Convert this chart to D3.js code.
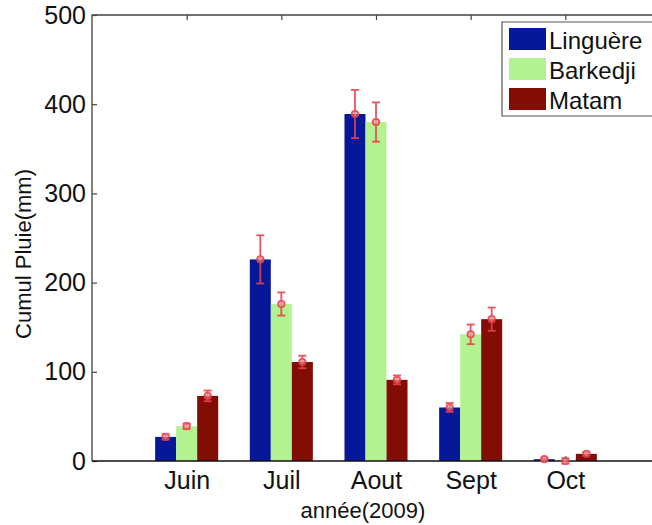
<!DOCTYPE html>
<html><head><meta charset="utf-8">
<script src="https://cdn.jsdelivr.net/npm/d3@7"></script>
<style>
html,body{margin:0;padding:0;background:#fff;overflow:hidden;width:652px;height:525px;}
svg{display:block;font-family:"Liberation Sans",Arial,Helvetica,sans-serif;overflow:hidden;}
</style></head><body>
<svg id="chart" width="652" height="525" viewBox="0 0 652 525"></svg>
<script>
const months = ["Juin","Juil","Aout","Sept","Oct"];
const seriesNames = ["Linguère","Barkedji","Matam"];
const linguere = [27, 226, 389, 60, 2];
const barkedji = [39, 176, 380, 142, 0];
const matam    = [73, 111, 91, 159, 8];
const errLinguere = [3, 27, 27, 5, 1];
const errBarkedji = [3, 13, 22, 11, 3];
const errMatam    = [6, 7, 5, 13, 2];
const yTicks = [0,100,200,300,400,500];
const colors = ["#061799","#b2f290","#820d05"];

const values = [linguere, barkedji, matam];
const errors = [errLinguere, errBarkedji, errMatam];

const svg = d3.select("#chart");
const x = d3.scaleLinear().domain([0,6]).range([92,660]);
const y = d3.scaleLinear().domain([0,500]).range([461,15]);
const bw = x(0.222) - x(0);

// axes frame (left and top; right side lies outside the picture)
svg.append("path")
  .attr("d",`M${x(6)},${y(500)}H${x(0)}V${y(0)}`)
  .attr("fill","none").attr("stroke","#444").attr("stroke-width",1.3);

// left axis
const gy = svg.append("g").attr("transform",`translate(${x(0)},0)`)
  .call(d3.axisLeft(y).tickValues(yTicks).tickSize(-5).tickPadding(6).tickFormat(d3.format("d")));
gy.select(".domain").remove();
gy.selectAll("line").attr("stroke","#444").attr("stroke-width",1.2);
gy.selectAll("text").attr("font-size",25).attr("fill","#111").attr("font-family","Liberation Sans, Arial, sans-serif");

// top ticks
const gt = svg.append("g").attr("transform",`translate(0,${y(500)})`)
  .call(d3.axisTop(x).tickValues([1,2,3,4,5]).tickSize(-5).tickFormat(""));
gt.select(".domain").remove();
gt.selectAll("line").attr("stroke","#444").attr("stroke-width",1.2);

// bottom axis
const gx = svg.append("g").attr("transform",`translate(0,${y(0)})`)
  .call(d3.axisBottom(x).tickValues([1,2,3,4,5]).tickSize(-5).tickPadding(10).tickFormat(d=>months[d-1]));
gx.select(".domain").remove();
gx.selectAll("line").attr("stroke","#444");
gx.selectAll("text").attr("font-size",25).attr("fill","#111").attr("font-family","Liberation Sans, Arial, sans-serif");

// bars
values.forEach((vals,s)=>{
  svg.append("g").selectAll("rect").data(vals).join("rect")
    .attr("x",(d,i)=>x(i+1) + (s-1.5)*bw)
    .attr("width",bw)
    .attr("y",d=>y(d))
    .attr("height",d=>y(0)-y(d))
    .attr("fill",colors[s]);
});

// baseline
svg.append("line").attr("x1",x(0)).attr("x2",x(6)).attr("y1",y(0)).attr("y2",y(0))
  .attr("stroke","#111").attr("stroke-width",1.6);

// error bars
const ec = "#e8424c";
values.forEach((vals,s)=>{
  const g = svg.append("g").attr("stroke",ec).attr("stroke-width",1.8).attr("opacity",0.9);
  vals.forEach((v,i)=>{
    const cx = x(i+1) + (s-1)*bw;
    const e = errors[s][i];
    g.append("line").attr("x1",cx).attr("x2",cx).attr("y1",y(v+e)).attr("y2",y(v-e));
    g.append("line").attr("x1",cx-4).attr("x2",cx+4).attr("y1",y(v+e)).attr("y2",y(v+e));
    g.append("line").attr("x1",cx-4).attr("x2",cx+4).attr("y1",y(v-e)).attr("y2",y(v-e));
    g.append("circle").attr("cx",cx).attr("cy",y(v)).attr("r",3.2).attr("fill","#f3a0a4").attr("fill-opacity",0.6);
  });
});

// axis labels
svg.append("text").attr("x",363).attr("y",518).attr("text-anchor","middle")
  .attr("font-size",22).attr("fill","#111").text("année(2009)");
svg.append("text").attr("transform","translate(31,254) rotate(-90)").attr("text-anchor","middle")
  .attr("font-size",22).attr("fill","#111").text("Cumul Pluie(mm)");

// legend (box continues beyond the right edge)
const lg = svg.append("g");
lg.append("rect").attr("x",502).attr("y",22).attr("width",170).attr("height",94).attr("fill","#fff");
lg.append("path").attr("d","M672,22H502V116H672")
  .attr("fill","none").attr("stroke","#555").attr("stroke-width",1.2);
seriesNames.forEach((n,i)=>{
  lg.append("rect").attr("x",509).attr("y",28+i*30).attr("width",37).attr("height",22).attr("fill",colors[i]);
  lg.append("text").attr("x",549).attr("y",49+i*30).attr("font-size",24).attr("fill","#111").text(n);
});
</script>
</body></html>
